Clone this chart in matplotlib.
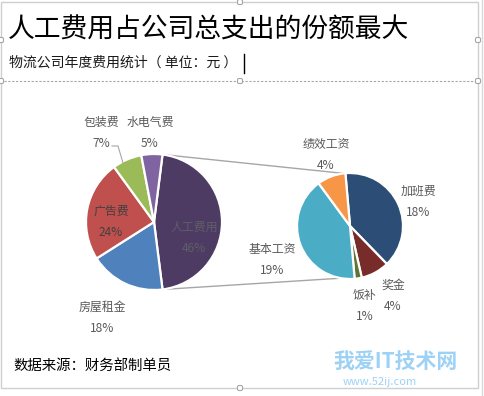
import numpy as np
import matplotlib
matplotlib.use("Agg")
import matplotlib.pyplot as plt
from matplotlib.patches import FancyBboxPatch, Rectangle

plt.rcParams['font.family'] = ['Noto Sans CJK SC', 'DejaVu Sans']

# ---------------- data ----------------
title = "人工费用占公司总支出的份额最大"
subtitle = "物流公司年度费用统计（ 单位：元 ）"
source = "数据来源：财务部制单员"

main_labels = ["人工费用", "房屋租金", "广告费", "包装费", "水电气费"]
main_values = [46, 18, 24, 7, 5]
main_colors = ["#4E3B63", "#4F81BD", "#C0504D", "#9BBB59", "#8064A2"]

sub_labels = ["加班费", "奖金", "饭补", "基本工资", "绩效工资"]
sub_values = [18, 4, 1, 19, 4]
sub_colors = ["#2C4D75", "#772C2A", "#5F7530", "#4BACC6", "#F79646"]

W, H = 484, 396
fig = plt.figure(figsize=(W / 100, H / 100), dpi=100)
ax = fig.add_axes([0, 0, 1, 1])

def py(y):
    return H - y

total = sum(main_values)
# ---------------- main pie ----------------
c1 = (154, py(222)); r1 = 68
start1 = 360 * main_values[0] / total / 2
ax.pie(main_values, colors=main_colors, startangle=start1, counterclock=False,
       center=c1, radius=r1, wedgeprops=dict(edgecolor="white", linewidth=1.6))

# ---------------- secondary pie ----------------
c2 = (350, py(226)); r2 = 53
ax.pie(sub_values, colors=sub_colors, startangle=95, counterclock=False,
       center=c2, radius=r2, wedgeprops=dict(edgecolor="white", linewidth=1.6))

# connector lines
a_top1, a_bot1 = np.radians(start1), np.radians(-start1)
a_top2, a_bot2 = np.radians(97), np.radians(-100)
for a1, a2 in [(a_top1, a_top2), (a_bot1, a_bot2)]:
    ax.plot([c1[0] + r1 * np.cos(a1), c2[0] + r2 * np.cos(a2)],
            [c1[1] + r1 * np.sin(a1), c2[1] + r2 * np.sin(a2)],
            color="#A6A6A6", lw=1.0, zorder=0)

# ---------------- labels ----------------
lab_col = "#595959"
fs = 8.6
def pct(v):
    return f"{round(100 * v / total)}%"

main_pos = {"人工费用": (194, 238), "房屋租金": (102, 318), "广告费": (111, 222),
            "包装费": (101, 133), "水电气费": (150, 133)}
sub_pos = {"加班费": (418, 202), "奖金": (393, 296), "饭补": (365, 306),
           "基本工资": (272, 260), "绩效工资": (326, 155)}
for lab, v in zip(main_labels, main_values):
    x, y = main_pos[lab]
    col = {"人工费用": "#5E5E66", "广告费": "#404040"}.get(lab, lab_col)
    ax.text(x, py(y), f"{lab}\n{pct(v)}", ha="center", va="center", fontsize=fs,
            color=col, linespacing=1.85)
for lab, v in zip(sub_labels, sub_values):
    x, y = sub_pos[lab]
    ax.text(x, py(y), f"{lab}\n{pct(v)}", ha="center", va="center", fontsize=fs,
            color=lab_col, linespacing=1.85)

# leader line for 包装费
ax.plot([112, 118, 123], [py(146), py(146), py(163)], color="#A6A6A6", lw=0.8)

# ---------------- titles ----------------
ax.text(8, py(30), title, ha="left", va="center", fontsize=19.3, color="black")
ax.text(9, py(63), subtitle, ha="left", va="center", fontsize=10, color="#1a1a1a")
ax.plot([244, 244], [py(54), py(73)], color="black", lw=1.0)
ax.text(13, py(366), source, ha="left", va="center", fontsize=10.4, color="black")

# text box dashed border
ax.plot([0, 478], [py(81), py(81)], color="#A6A6A6", lw=0.8, ls=(0, (2, 1.5)))

# chart border
ax.add_patch(Rectangle((1, py(388)), 477, 386, fill=False, ec="#CFCFCF", lw=1.0))
ax.plot([482, 482], [0, H], color="#D9D9D9", lw=1.0)

# handles
for hx, hy in [(240, 81), (240, 2), (1, 40), (478, 40), (478, 81), (1, 81), (240, 388)]:
    ax.add_patch(FancyBboxPatch((hx - 2.5, py(hy) - 2.5), 5, 5,
                                boxstyle="round,pad=0,rounding_size=1.5",
                                fc="white", ec="#A6A6A6", lw=0.8, zorder=5))

# watermark
ax.text(396, py(361), "我爱IT技术网", ha="center", va="center", fontsize=15,
        color="#7DC3F2", fontweight="bold", alpha=0.75)
ax.text(380, py(382), "www.52ij.com", ha="center", va="center", fontsize=8,
        color="#7DC3F2", alpha=0.75)

ax.set_xlim(0, W)
ax.set_ylim(0, H)
ax.set_aspect("equal")
ax.axis("off")
fig.savefig("out.png", dpi=100)
